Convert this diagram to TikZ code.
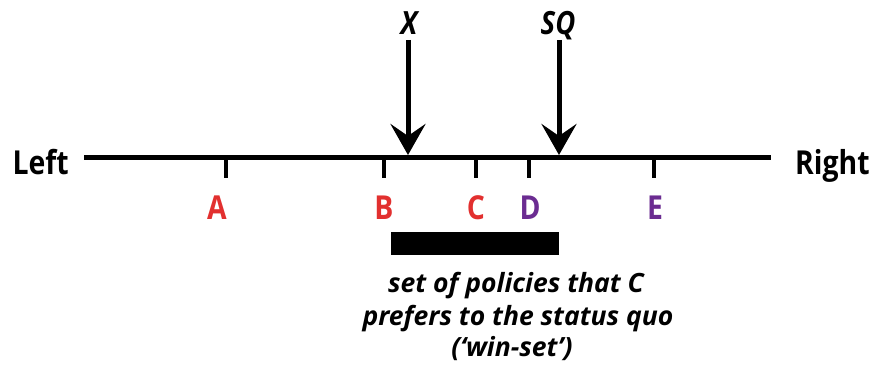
\documentclass[tikz,border=0pt]{standalone}
\usepackage{fontspec}
\setmainfont[FakeStretch=0.86]{Open Sans}
\newfontfamily\notefont{Open Sans}
\usetikzlibrary{arrows.meta}
\definecolor{posred}{HTML}{E2302F}
\definecolor{pospurple}{HTML}{6B2C91}
\tikzset{
  axisline/.style={line width=5pt},
  tickmark/.style={line width=4pt},
  pointer/.style={line width=5pt, -{Stealth[length=31pt, width=35pt, inset=12pt]}},
  endlabel/.style={font=\fontsize{33}{36}\selectfont\bfseries, anchor=base, inner sep=0pt},
  actor/.style={font=\fontsize{33}{36}\selectfont\bfseries, anchor=base, inner sep=0pt},
  optlabel/.style={font=\fontsize{32}{36}\selectfont\bfseries\itshape, anchor=base, inner sep=0pt},
  note/.style={font=\notefont\fontsize{26.5}{32}\selectfont\bfseries\itshape, anchor=base, inner sep=0pt},
}
\begin{document}
\begin{tikzpicture}[x=1pt, y=-1pt]
\useasboundingbox (0,0) rectangle (876,371);

% policy dimension
\coordinate (lend) at (84,157.5);
\coordinate (rend) at (771,157.5);
\draw[axisline] (lend) -- (rend);
\node[endlabel, anchor=base east] (left) at (69,175) {Left};
\node[endlabel, anchor=base west] (right) at (795,175) {Right};

% ideal points of the actors
\foreach \name/\x/\lx/\col in {A/225.5/217/posred, B/384/384/posred, C/476/476/posred, D/528.5/530/pospurple, E/654/655/pospurple}{
  \coordinate (t\name) at (\x,159);
  \coordinate (b\name) at (\x,178);
  \draw[tickmark] (t\name) -- (b\name);
  \node[actor, text=\col] (l\name) at (\lx,220) {\name};
}

% proposal and status quo
\node[optlabel] (x) at (409,35) {X};
\node[optlabel] (sq) at (558,35) {SQ};
\coordinate (xtop) at (408,40);
\coordinate (xtip) at (408,155);
\coordinate (sqtop) at (559,40);
\coordinate (sqtip) at (559,155);
\draw[pointer] (xtop) -- (xtip);
\draw[pointer] (sqtop) -- (sqtip);

% win-set of C
\fill (391,232) rectangle (559,255);
\node[note] (note1) at (516,293) {set of policies that C};
\node[note] (note2) at (518,325.5) {prefers to the status quo};
\node[note] (note3) at (512,357) {(‘win-set’)};
\end{tikzpicture}
\end{document}
